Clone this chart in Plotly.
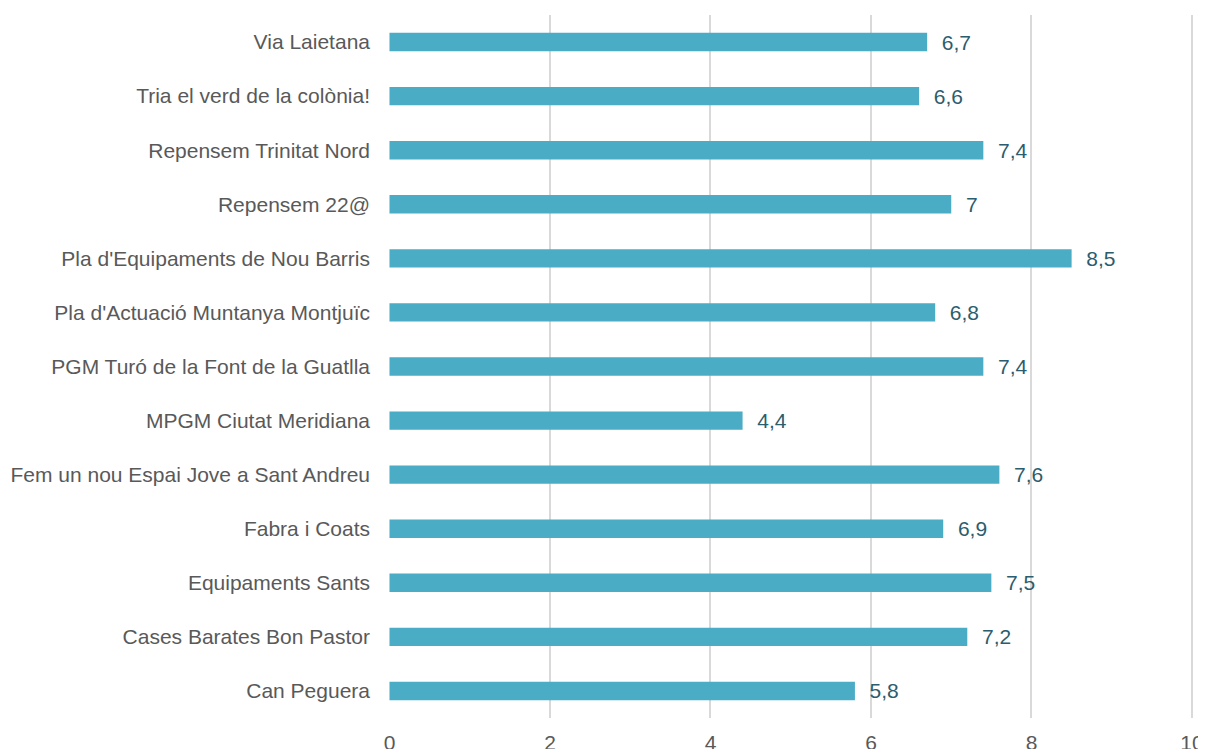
import plotly.graph_objects as go

categories = [
    "Can Peguera",
    "Cases Barates Bon Pastor",
    "Equipaments Sants",
    "Fabra i Coats",
    "Fem un nou Espai Jove a Sant Andreu",
    "MPGM Ciutat Meridiana",
    "PGM Turó de la Font de la Guatlla",
    "Pla d'Actuació Muntanya Montjuïc",
    "Pla d'Equipaments de Nou Barris",
    "Repensem 22@",
    "Repensem Trinitat Nord",
    "Tria el verd de la colònia!",
    "Via Laietana",
]
values = [5.8, 7.2, 7.5, 6.9, 7.6, 4.4, 7.4, 6.8, 8.5, 7.0, 7.4, 6.6, 6.7]
x_ticks = [0, 2, 4, 6, 8, 10]

labels = ["  " + (f"{v:g}".replace(".", ",")) for v in values]

fig = go.Figure(
    go.Bar(
        x=values,
        y=categories,
        orientation="h",
        marker=dict(color="#4BACC6", line=dict(width=0)),
        width=0.34,
        text=labels,
        textposition="outside",
        constraintext="none",
        cliponaxis=False,
        textfont=dict(family="Liberation Sans, Arial, sans-serif", size=21, color="#2B5D6E"),
    )
)

# page body has an 8px margin, so margins compensate for that offset
fig.update_layout(
    width=1206,
    height=749,
    margin=dict(l=381, r=18, t=7, b=39, autoexpand=False),
    paper_bgcolor="white",
    plot_bgcolor="white",
    showlegend=False,
    font=dict(family="Liberation Sans, Arial, sans-serif", size=21, color="#595959"),
)
fig.update_xaxes(
    range=[-0.006, 10.05],
    tickvals=x_ticks,
    ticktext=[str(t) for t in x_ticks],
    showgrid=True,
    gridcolor="#D9D9D9",
    gridwidth=1.5,
    zeroline=False,
    showline=False,
    ticks="",
    automargin=False,
    ticklabelstandoff=10,
    tickfont=dict(size=21, color="#595959"),
)
fig.update_yaxes(
    categoryorder="array",
    categoryarray=categories,
    range=[-0.5, len(categories) - 0.5],
    showgrid=False,
    zeroline=False,
    showline=False,
    ticks="",
    automargin=False,
    ticklabelstandoff=18,
    tickfont=dict(size=21, color="#595959"),
)

fig.write_html("out.html")
